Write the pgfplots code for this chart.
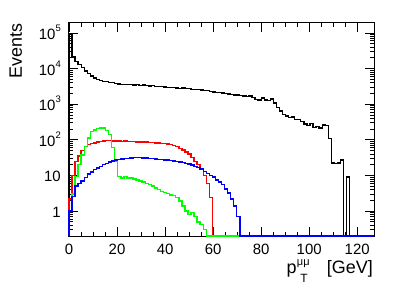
\documentclass[border=0pt]{standalone}
\usepackage{pgfplots}
\pgfplotsset{compat=1.18}
\usepackage{pgfplotstable}
\usepackage{fontspec}
\setmainfont{Liberation Sans}
\newcommand\tpow[1]{10\raisebox{0.52em}{\fontsize{9.5}{9.5}\selectfont #1}}
\definecolor{rgreen}{RGB}{0,255,0}

\pgfplotstableread{
x black red green blue
0 0.2 0.2 0.2 0.2
0 90000 2.2 1 1
1.27 21000 10 3 2.6
2.54 15500 25 9.5 5
3.81 13000 35 20 6
5.08 10500 50 38 7
6.35 8500 65 66 8.6
7.62 7200 73 112 11
8.89 6200 80 170 12.5
10.16 5400 82 190 14.6
11.43 4900 88 205 16
12.7 4600 91 214 18
13.97 4400 93 214 20
15.24 4300 95 182 22
16.51 4100 94 140 24
17.78 4000 93 60 25.5
19.05 3800 93 25 27
20.32 3700 92 9.5 28
21.59 3600 91 8.5 29
22.86 3650 92 9.5 30
24.13 3500 90 8.5 30.5
25.4 3550 90 8.5 31
26.67 3450 89 8 31.5
27.94 3500 88 7.5 31.5
29.21 3400 87 7 31.5
30.48 3450 86 6.5 31
31.75 3300 86 6 31
33.02 3250 85 5.5 30
34.29 3300 84 5 29.5
35.56 3200 82 4.5 29
36.83 3150 81 4 28.5
38.1 3200 79 3.6 28
39.37 3050 78 3.3 27.5
40.64 3000 76 3.1 27
41.91 2950 73 2.8 26
43.18 3000 68 2.7 25.5
44.45 2850 64 2.4 25
45.72 2800 58 1.9 24
46.99 2850 52 1.4 23
48.26 2700 45 1.0 22
49.53 2750 40 0.8 21
50.8 2600 32 0.9 19.5
52.07 2600 25 0.7 18
53.34 2550 20 0.5 16.5
54.61 2500 15 0.42 15
55.88 2450 10 0.3 13
57.15 2400 6 0.2 11.5
58.42 2300 2.4 0.2 10
59.69 2200 0.2 0.2 9
60.96 2150 0.2 0.2 7.5
62.23 2100 0.2 0.2 6.5
63.5 2050 0.2 0.2 5.5
64.77 2000 0.2 0.2 4.2
66.04 1950 0.2 0.2 3.2
67.31 1850 0.2 0.2 2.2
68.58 1800 0.2 0.2 1.4
69.85 1800 0.2 0.2 0.7
71.12 1750 0.2 0.2 0.2
72.39 1700 0.2 0.2 0.2
73.66 1650 0.2 0.2 0.2
74.93 1700 0.2 0.2 0.2
76.2 1550 0.2 0.2 0.2
77.47 1350 0.2 0.2 0.2
78.74 1300 0.2 0.2 0.2
80.01 1500 0.2 0.2 0.2
81.28 1300 0.2 0.2 0.2
82.55 1250 0.2 0.2 0.2
83.82 1400 0.2 0.2 0.2
85.09 1070 0.2 0.2 0.2
86.36 800 0.2 0.2 0.2
87.63 640 0.2 0.2 0.2
88.9 520 0.2 0.2 0.2
90.17 470 0.2 0.2 0.2
91.44 420 0.2 0.2 0.2
92.71 440 0.2 0.2 0.2
93.98 370 0.2 0.2 0.2
95.25 380 0.2 0.2 0.2
96.52 330 0.2 0.2 0.2
97.79 280 0.2 0.2 0.2
99.06 250 0.2 0.2 0.2
100.33 290 0.2 0.2 0.2
101.6 220 0.2 0.2 0.2
102.87 235 0.2 0.2 0.2
104.14 215 0.2 0.2 0.2
105.41 260 0.2 0.2 0.2
106.68 250 0.2 0.2 0.2
107.95 110 0.2 0.2 0.2
109.22 22.5 0.2 0.2 0.2
110.49 22 0.2 0.2 0.2
111.76 22.5 0.2 0.2 0.2
113.03 27 0.2 0.2 0.2
114.3 0.2 0.2 0.2 0.2
115.57 9 0.2 0.2 0.2
116.84 0.2 0.2 0.2 0.2
118.11 0.2 0.2 0.2 0.2
119.38 0.2 0.2 0.2 0.2
120.65 0.2 0.2 0.2 0.2
121.92 0.2 0.2 0.2 0.2
123.19 0.2 0.2 0.2 0.2
124.46 0.2 0.2 0.2 0.2
125.73 0.2 0.2 0.2 0.2
127 0.2 0.2 0.2 0.2
}\hdata

\begin{document}
\begin{tikzpicture}
\begin{axis}[
  name=ax,
  scale only axis,
  width=305bp, height=213bp,
  xmin=0, xmax=127,
  ymode=log, ymin=0.2, ymax=1.9e5,
  clip=false,
  xtick={0,20,40,60,80,100,120},
  xticklabels={0,20,40,60,80,100,120},
  minor x tick num=3,
  ytick={1,10,100,1000,10000,100000},
  yticklabels={1,10,\tpow{2},\tpow{3},\tpow{4},\tpow{5}},
  minor ytick={0.2,0.3,0.4,0.5,0.6,0.7,0.8,0.9,2,3,4,5,6,7,8,9,20,30,40,50,60,70,80,90,200,300,400,500,600,700,800,900,2000,3000,4000,5000,6000,7000,8000,9000,20000,30000,40000,50000,60000,70000,80000,90000},
  tick align=inside,
  tick pos=both,
  major tick length=9bp,
  minor tick length=4.5bp,
  every tick/.style={black, line width=0.8bp},
  axis line style={line width=1bp},
  xticklabel style={font=\fontsize{15}{15}\selectfont, anchor=north, inner sep=0pt, yshift=-8bp},
  yticklabel style={font=\fontsize{15}{15}\selectfont, anchor=base east, inner sep=0pt, xshift=-8bp, yshift=-6.5bp},
]
\addplot[black, const plot, line width=1.3bp] table[x=x, y=black] {\hdata};
\addplot[red, const plot, line width=1.4bp] table[x=x, y=red] {\hdata};
\addplot[rgreen, const plot, line width=1.4bp] table[x=x, y=green] {\hdata};
\addplot[blue, const plot, line width=1.4bp] table[x=x, y=blue] {\hdata};
\end{axis}
\node[rotate=90, anchor=base east, inner sep=0pt, font=\fontsize{18}{18}\selectfont] at ([xshift=-47bp]ax.north west) {Events};
\node[anchor=base east, inner sep=0pt, font=\fontsize{18}{18}\selectfont] (gev) at ([xshift=-1bp, yshift=-37bp]ax.south east) {[GeV]};
\node[anchor=base east, inner sep=0pt, font=\fontsize{18}{18}\selectfont] (pp) at ([xshift=-30bp]gev.base west) {p};
\node[anchor=base west, inner sep=0pt, font=\fontsize{11}{11}\selectfont] at ([xshift=0bp, yshift=8bp]pp.base east) {μμ};
\node[anchor=north west, inner sep=0pt, font=\fontsize{12}{12}\selectfont] at ([xshift=3.5bp, yshift=-1bp]pp.base east) {T};
\pgfresetboundingbox
\path[use as bounding box] ([shift={(-69bp,-53bp)}]ax.south west) rectangle ([shift={(33bp,23bp)}]ax.north east);
\end{tikzpicture}
\end{document}
